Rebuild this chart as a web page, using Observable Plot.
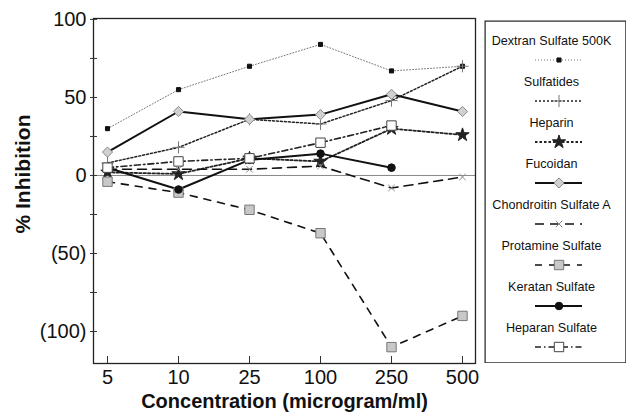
<!DOCTYPE html>
<html>
<head>
<meta charset="utf-8">
<script src="https://cdn.jsdelivr.net/npm/d3@7"></script>
<script src="https://cdn.jsdelivr.net/npm/@observablehq/plot@0.6"></script>
<style>
  html, body { margin: 0; padding: 0; background: white; }
  #wrap { position: relative; width: 626px; height: 418px; overflow: hidden; background: white; }
  #main { position: absolute; left: 0; top: 0; }
  #legend { position: absolute; left: 484px; top: 20px; }
</style>
</head>
<body>
<div id="wrap"><div id="main"></div><div id="legend"></div></div>
<script>
// ---- data ----
const concentrations = ["5", "10", "25", "100", "250", "500"];
const seriesNames = ["Dextran Sulfate 500K", "Sulfatides", "Heparin", "Fucoidan",
  "Chondroitin Sulfate A", "Protamine Sulfate", "Keratan Sulfate", "Heparan Sulfate"];
const dextran     = [30, 55, 70, 84, 67, 70];
const sulfatides  = [8, 18, 36, 33, 48, 70];
const heparin     = [2, 1, 11, 9, 30, 26];
const fucoidan    = [15, 41, 36, 39, 52, 41];
const chondroitin = [4, 4, 4, 6, -8, -1];
const protamine   = [-4, -11, -22, -37, -110, -90];
const keratan     = [5, -9, 10, 14, 5, null];
const heparan     = [5, 9, 11, 21, 32, null];
const yTickValues = [100, 50, 0, -50, -100];
const yMinorTicks = [100, 75, 50, 25, 0, -25, -50, -75, -100];
const xLabel = "Concentration (microgram/ml)";
const yLabel = "% Inhibition";

const seriesValues = [dextran, sulfatides, heparin, fucoidan, chondroitin, protamine, keratan, heparan];

// ---- styles ----
const styles = [
  {stroke: "#777", width: 1,   dash: "1,2",       symbol: "square",   r: 2.3, fill: "#111",    mstroke: "#111"},
  {stroke: "#222", width: 1.5, dash: "2,2",       symbol: "plus",     r: 4,   fill: "none",    mstroke: "#777"},
  {stroke: "#222", width: 1.8, dash: "2.5,2",     symbol: "star",     r: 4.2, fill: "#222",    mstroke: "#222"},
  {stroke: "#111", width: 2,   dash: null,        symbol: "diamond2", r: 4.6, fill: "#d0d0d0", mstroke: "#888"},
  {stroke: "#111", width: 1.6, dash: "9,6",       symbol: "times",    r: 3,   fill: "none",    mstroke: "#888"},
  {stroke: "#111", width: 1.6, dash: "7,7",       symbol: "square",   r: 5.3, fill: "#c8c8c8", mstroke: "#777"},
  {stroke: "#111", width: 2,   dash: null,        symbol: "circle",   r: 3.8, fill: "#111",    mstroke: "#111"},
  {stroke: "#222", width: 1.6, dash: "6,3,1.5,3", symbol: "square",   r: 5.3, fill: "white",   mstroke: "#444"}
];

const FONT = "'Liberation Sans', Arial, Helvetica, sans-serif";
const fmt = d => d < 0 ? `(${-d})` : `${d}`;

const rowsFor = i => concentrations
  .map((c, j) => ({series: seriesNames[i], conc: c, value: seriesValues[i][j]}))
  .filter(d => d.value != null);

const lineMarks = [];
const dotMarks = [];
seriesNames.forEach((name, i) => {
  const s = styles[i];
  const rows = rowsFor(i);
  lineMarks.push(Plot.line(rows, {x: "conc", y: "value", stroke: s.stroke, strokeWidth: s.width,
    strokeDasharray: s.dash || undefined}));
  dotMarks.push(Plot.dot(rows, {x: "conc", y: "value", symbol: s.symbol, r: s.r,
    fill: s.fill, stroke: s.mstroke, strokeWidth: 1}));
});

const main = Plot.plot({
  width: 480, height: 418,
  marginLeft: 93, marginRight: 5, marginTop: 18, marginBottom: 55,
  x: {type: "point", domain: concentrations, padding: 0.16},
  y: {domain: [-120.5, 100.6]},
  style: {fontFamily: FONT, fontSize: "20px", color: "#111", background: "white"},
  marks: [
    Plot.ruleY([0], {stroke: "#888", strokeWidth: 1}),
    ...lineMarks,
    ...dotMarks,
    Plot.frame({stroke: "#222", strokeWidth: 1.3}),
    Plot.axisY(yMinorTicks, {tickSize: 7, dx: 4, tickFormat: () => "", label: null, stroke: "#333"}),
    Plot.axisY(yTickValues, {tickSize: 0, tickPadding: 7, tickFormat: fmt, label: null, fontSize: 20}),
    Plot.axisX(concentrations, {tickSize: 7, dy: -7, tickFormat: () => "", label: null, stroke: "#333"}),
    Plot.axisX(concentrations, {tickSize: 0, tickPadding: 6, label: null, fontSize: 20}),
    Plot.text([xLabel], {frameAnchor: "bottom", dy: 38, fontWeight: "bold", fontSize: 20, lineAnchor: "middle"}),
    Plot.text([yLabel], {frameAnchor: "left", dx: -70, dy: -17, rotate: -90, textAnchor: "middle",
      fontWeight: "bold", fontSize: 21, lineAnchor: "middle"})
  ]
});
document.getElementById("main").appendChild(main);

// ---- legend ----
const legendMarks = [
  Plot.frame({stroke: "#222", strokeWidth: 1.2, inset: 0.6}),
  Plot.text(seriesNames, {x: () => 67, y: d => d, text: d => d, dy: -9.5, fontSize: 12.6, fill: "#111"})
];
seriesNames.forEach((name, i) => {
  const s = styles[i];
  legendMarks.push(Plot.ruleY([name], {y: d => d, x1: () => 51, x2: () => 98, dy: 9.5,
    stroke: s.stroke, strokeWidth: s.width, strokeDasharray: s.dash || undefined}));
  legendMarks.push(Plot.dot([name], {x: () => 74.5, y: d => d, dy: 9.5, symbol: s.symbol, r: s.r,
    fill: s.fill, stroke: s.mstroke, strokeWidth: 1}));
});
const legend = Plot.plot({
  width: 142, height: 343, margin: 0,
  x: {domain: [0, 142], range: [0, 142], axis: null},
  y: {type: "point", domain: seriesNames, range: [28.5, 317.5], padding: 0, axis: null},
  style: {fontFamily: FONT, fontSize: "12.6px", color: "#111", background: "white"},
  marks: legendMarks
});
document.getElementById("legend").appendChild(legend);
</script>
</body>
</html>
